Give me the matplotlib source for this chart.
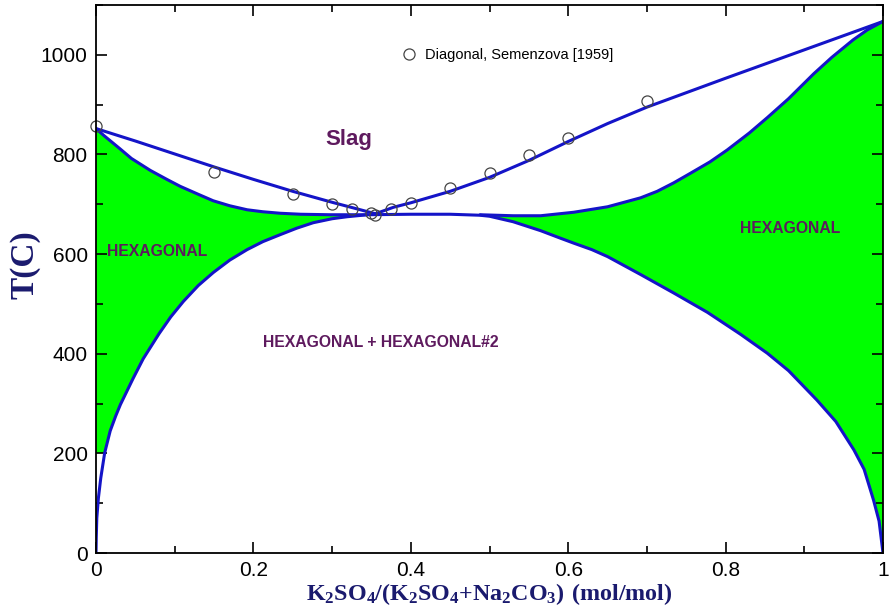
#K2SO4 - Na2CO3 phase diagram with Semenzova (1959) points
import numpy as np
import matplotlib
matplotlib.use('Agg')
import matplotlib.pyplot as plt
from matplotlib.ticker import MultipleLocator, FuncFormatter

plt.rcParams['mathtext.fontset'] = 'custom'
plt.rcParams['mathtext.bf'] = 'Liberation Serif:bold'
plt.rcParams['mathtext.rm'] = 'Liberation Serif:bold'

#Experimental points, Diagonal, Semenzova [1959]
semenzova_x = [0, 0.15, 0.25, 0.30, 0.325, 0.35, 0.355, 0.375, 0.40, 0.45, 0.50, 0.55, 0.60, 0.70]
semenzova_T = [858, 764, 720, 700, 691, 683, 679, 690, 703, 732, 762, 798, 834, 908]

#Liquidus
liq_left_x = [0, 0.05, 0.10, 0.15, 0.20, 0.25, 0.30, 0.355]
liq_left_T = [852, 827, 801, 775, 750, 726, 704, 681]
liq_right_x = [0.355, 0.378, 0.40, 0.45, 0.50, 0.55, 0.60, 0.65, 0.70, 0.80, 0.90, 1.0]
liq_right_T = [681, 694, 703, 726, 754, 788, 826, 862, 895, 953, 1010, 1067]

#Solidus of the two hexagonal phases
sol_left_x = [0, 0.01, 0.02, 0.03, 0.045, 0.069, 0.09, 0.107, 0.13, 0.149, 0.17, 0.192,
              0.212, 0.234, 0.26, 0.298, 0.345]
sol_left_T = [852, 838, 825, 812, 792, 768, 750, 736, 720, 707, 697, 689,
              685, 682, 680, 679, 679]
sol_right_x = [0.488, 0.53, 0.565, 0.607, 0.65, 0.692, 0.713, 0.734, 0.755, 0.78, 0.802, 0.83,
               0.853, 0.88, 0.912, 0.935, 0.962, 0.98, 1.0]
sol_right_T = [679, 677, 677, 684, 695, 713, 726, 743, 762, 785, 809, 843,
               874, 912, 962, 995, 1030, 1050, 1067]

#Miscibility gap HEXAGONAL + HEXAGONAL#2
solvus_x = [0, 0.0003, 0.001, 0.003, 0.006, 0.011, 0.018, 0.025, 0.031, 0.047, 0.06, 0.08,
            0.095, 0.111, 0.13, 0.149, 0.17, 0.192, 0.212, 0.234, 0.255, 0.276, 0.30, 0.319,
            0.345, 0.40, 0.45, 0.488, 0.50, 0.53, 0.565, 0.59, 0.607, 0.63, 0.65, 0.692,
            0.734, 0.777, 0.819, 0.853, 0.88, 0.916, 0.94, 0.963, 0.976, 0.988, 0.995, 1.0]
solvus_T = [0, 30, 70, 110, 150, 201, 245, 275, 298, 350, 390, 440,
            474, 505, 537, 563, 588, 609, 625, 639, 652, 663, 671, 675,
            679, 680, 680, 678, 676, 665, 647, 632, 622, 609, 595, 559,
            522, 483, 439, 401, 366, 307, 264, 207, 168, 106, 64, 0]

blue = '#1414c8'
green = '#00ff00'
purple = '#5e1a5e'
navy = '#1a1a6e'

solvus_x = np.array(solvus_x); solvus_T = np.array(solvus_T)
fig = plt.figure(figsize=(8.94, 6.11), dpi=100)
ax = fig.add_axes([0.1074, 0.0949, 0.8803, 0.8969])

#green single phase regions
lo = (solvus_x <= 0.345) & (solvus_T >= 200)
ax.fill(np.concatenate([[0], solvus_x[lo], sol_left_x[::-1]]),
        np.concatenate([[200], solvus_T[lo], sol_left_T[::-1]]), color=green, lw=0)
hi = solvus_x >= 0.488
ax.fill(np.concatenate([solvus_x[hi], sol_right_x[::-1]]),
        np.concatenate([solvus_T[hi], sol_right_T[::-1]]), color=green, lw=0)

for xs, ts in [(liq_left_x, liq_left_T), (liq_right_x, liq_right_T), (sol_left_x, sol_left_T),
               (sol_right_x, sol_right_T), (solvus_x, solvus_T)]:
  ax.plot(xs, ts, c=blue, lw=2.2, solid_capstyle='round', solid_joinstyle='round')

ax.plot(semenzova_x, semenzova_T, 'o', mfc='none', mec='#444444', ms=8, mew=0.9,
        label='Diagonal, Semenzova [1959]', clip_on=False)
leg = ax.legend(loc='center left', bbox_to_anchor=(0.389, 0.909), frameon=False,
                handlelength=1.0, handletextpad=0.6, borderpad=0, borderaxespad=0,
                prop={'family': 'Liberation Sans', 'size': 10.5})

lab = dict(color=purple, fontweight='bold', family='Liberation Sans', ha='center', va='center')
ax.text(0.3216, 830, 'Slag', fontsize=16, **lab)
ax.text(0.078, 605, 'HEXAGONAL', fontsize=11.3, **lab)
ax.text(0.8824, 652, 'HEXAGONAL', fontsize=11.3, **lab)
ax.text(0.362, 423, 'HEXAGONAL + HEXAGONAL#2', fontsize=11.3, **lab)

ax.set_xlim(0, 1)
ax.set_ylim(0, 1100)
ax.xaxis.set_major_locator(MultipleLocator(0.2))
ax.xaxis.set_minor_locator(MultipleLocator(0.1))
ax.yaxis.set_major_locator(MultipleLocator(200))
ax.yaxis.set_minor_locator(MultipleLocator(100))
ax.xaxis.set_major_formatter(FuncFormatter(lambda v, p: '%g' % round(v, 2)))
ax.tick_params(which='both', direction='in', top=True, right=True, width=1.2, labelsize=15)
ax.tick_params(which='major', length=8, pad=6)
ax.tick_params(which='minor', length=5)
for t in ax.get_xticklabels() + ax.get_yticklabels():
  t.set_family('Liberation Sans')
for s in ax.spines.values():
  s.set_linewidth(1.3)

ax.set_xlabel(r'$\mathbf{K_2SO_4/(K_2SO_4{+}Na_2CO_3)\ (mol/mol)}$', fontsize=17.3, color=navy)
ax.xaxis.set_label_coords(0.5003, -0.052)
ax.set_ylabel('T(C)', family='Liberation Serif', fontweight='bold', fontsize=24, color=navy)
ax.yaxis.set_label_coords(-0.071, 0.526)

fig.savefig('out.png', dpi=100)
